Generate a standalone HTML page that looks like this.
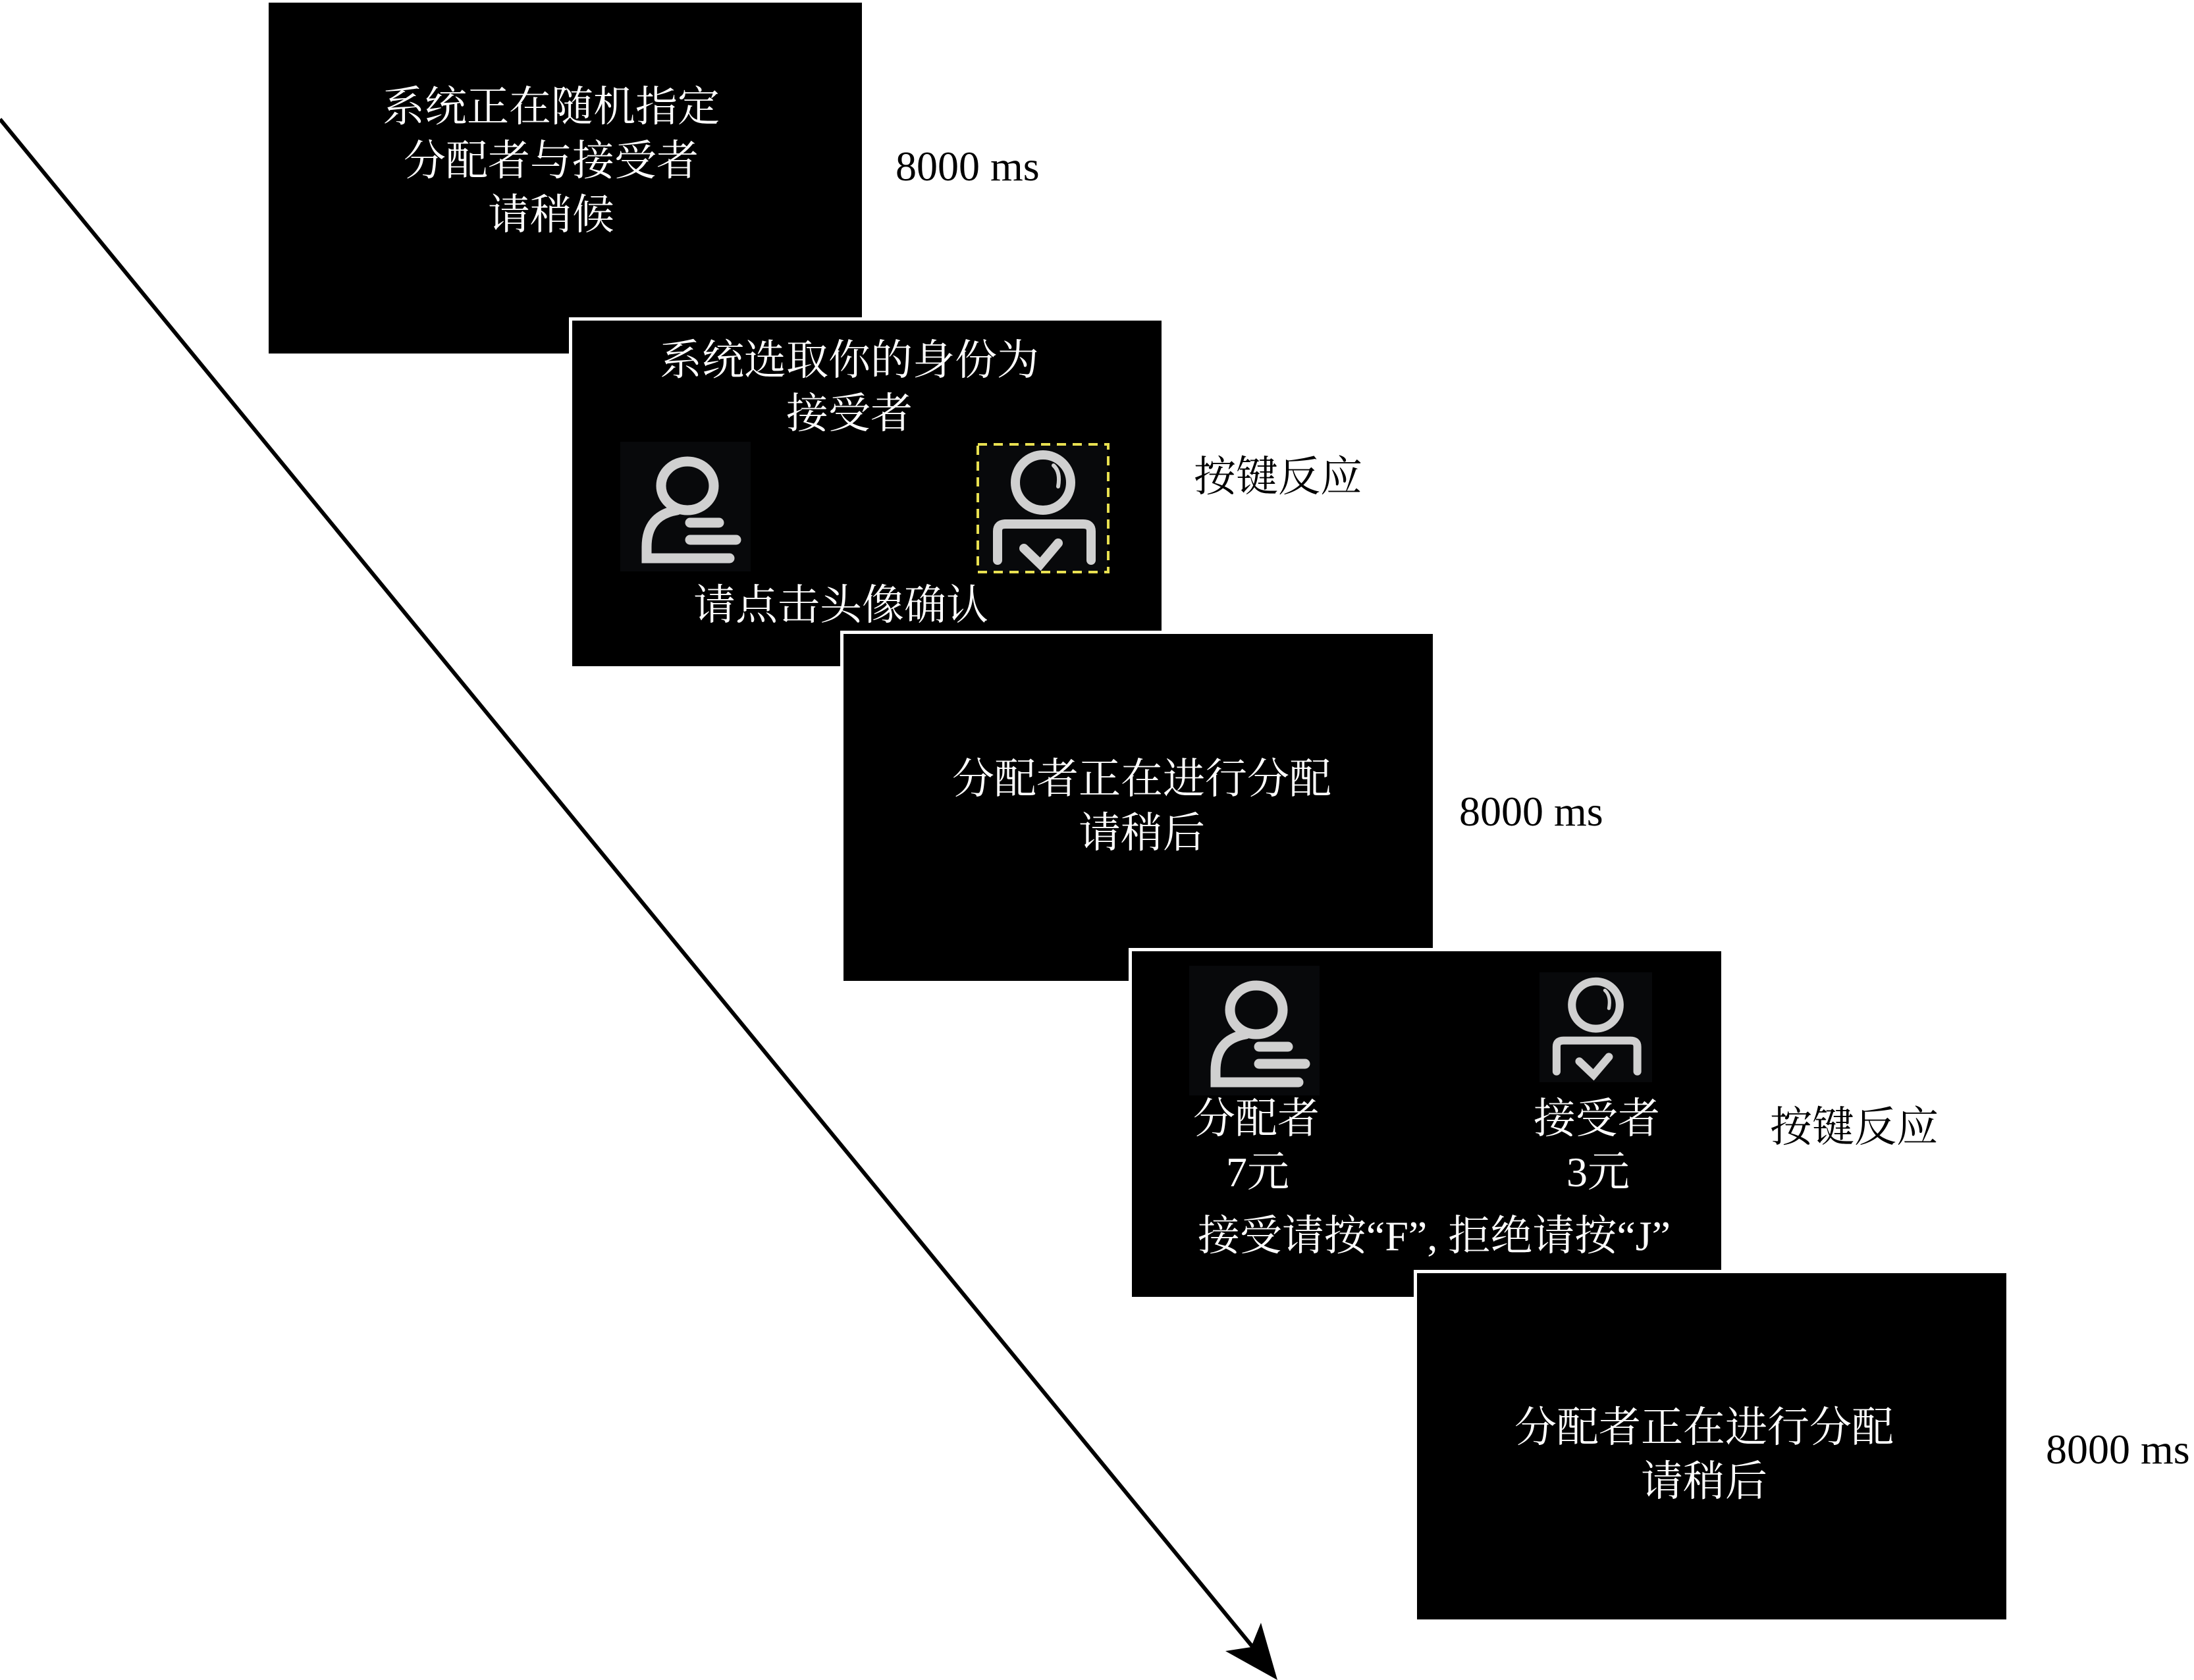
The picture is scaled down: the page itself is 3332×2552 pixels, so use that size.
<!DOCTYPE html>
<html><head><meta charset="utf-8"><style>
html,body{margin:0;padding:0;background:#fff;}
body{width:3332px;height:2552px;position:relative;overflow:hidden;font-family:"Liberation Serif","Noto Serif CJK SC",serif;}
.box{position:absolute;background:#000;box-sizing:border-box;}
.b{border:5px solid #fff;}
.t{position:absolute;color:#fff;font-size:64px;line-height:82px;white-space:nowrap;transform:translate(-50%,-50%);text-align:center;}
.l{position:absolute;color:#000;font-size:64px;white-space:nowrap;transform:translateY(-50%);line-height:1;}
svg{position:absolute;left:0;top:0;}
</style></head><body>
<div class="box" style="left:408px;top:4px;width:901px;height:533px"></div>
<div class="t" style="left:837px;top:245px">系统正在随机指定<br>分配者与接受者<br>请稍候</div>

<div class="box b" style="left:864px;top:482px;width:905px;height:535px"></div>
<div class="t" style="left:1290px;top:548px">系统选取你的身份为</div>
<div class="t" style="left:1290px;top:629px">接受者</div>
<div class="t" style="left:1277px;top:920px">请点击头像确认</div>

<div class="box b" style="left:1276px;top:958px;width:905px;height:537px"></div>
<div class="t" style="left:1734px;top:1225px">分配者正在进行分配<br>请稍后</div>

<div class="box b" style="left:1714px;top:1440px;width:905px;height:535px"></div>
<div class="t" style="left:1908px;top:1700px">分配者</div>
<div class="t" style="left:1910px;top:1781px">7元</div>
<div class="t" style="left:2425px;top:1700px">接受者</div>
<div class="t" style="left:2427px;top:1781px">3元</div>
<div class="t" style="left:2178px;top:1878px">接受请按“F”, 拒绝请按“J”</div>

<div class="box b" style="left:2147px;top:1929px;width:905px;height:536px"></div>
<div class="t" style="left:2588px;top:2210px">分配者正在进行分配<br>请稍后</div>

<div class="l" style="left:1360px;top:253px">8000 ms</div>
<div class="l" style="left:1813px;top:725px">按键反应</div>
<div class="l" style="left:2216px;top:1233px">8000 ms</div>
<div class="l" style="left:2688px;top:1713px">按键反应</div>
<div class="l" style="left:3107px;top:2202px">8000 ms</div>

<svg width="3332" height="2552" viewBox="0 0 3332 2552">
<defs>
<g id="alloc">
<rect x="0" y="0" width="198" height="197" fill="#08090b"/>
<g fill="none" stroke="#d0d0d0" stroke-width="15" stroke-linecap="round">
<ellipse cx="102" cy="67" rx="40" ry="37"/>
<path d="M86 104 Q40 112 40 160 L40 177 L166 177"/>
<path d="M106 123 L150 123 M106 149 L176 149"/>
</g>
</g>
<g id="accept">
<rect x="0" y="0" width="198" height="195" fill="#08090b"/>
<g fill="none" stroke="#d0d0d0" stroke-width="14" stroke-linecap="round">
<ellipse cx="99" cy="58" rx="42" ry="42"/>
<path d="M115 32 Q126 42 122 64" stroke-width="6"/>
<path d="M30 176 L30 132 Q30 121 42 121 L160 121 Q172 121 172 132 L172 176"/>
<path d="M70 158 L95 182 L122 150"/>
</g>
</g>
</defs>
<use href="#alloc" x="942" y="671"/>
<use href="#accept" x="1485" y="675"/>
<rect x="1485" y="675" width="198" height="194" fill="none" stroke="#e8e050" stroke-width="4" stroke-dasharray="14,10"/>
<use href="#alloc" x="1806" y="1467"/>
<g transform="translate(2338,1477) scale(0.864,0.856)"><use href="#accept"/></g>
<line x1="0" y1="181" x2="1905" y2="2505" stroke="#000" stroke-width="6"/>
<polygon points="1940,2552 1861,2508 1900,2502 1915,2465" fill="#000"/>
</svg>
</body></html>
